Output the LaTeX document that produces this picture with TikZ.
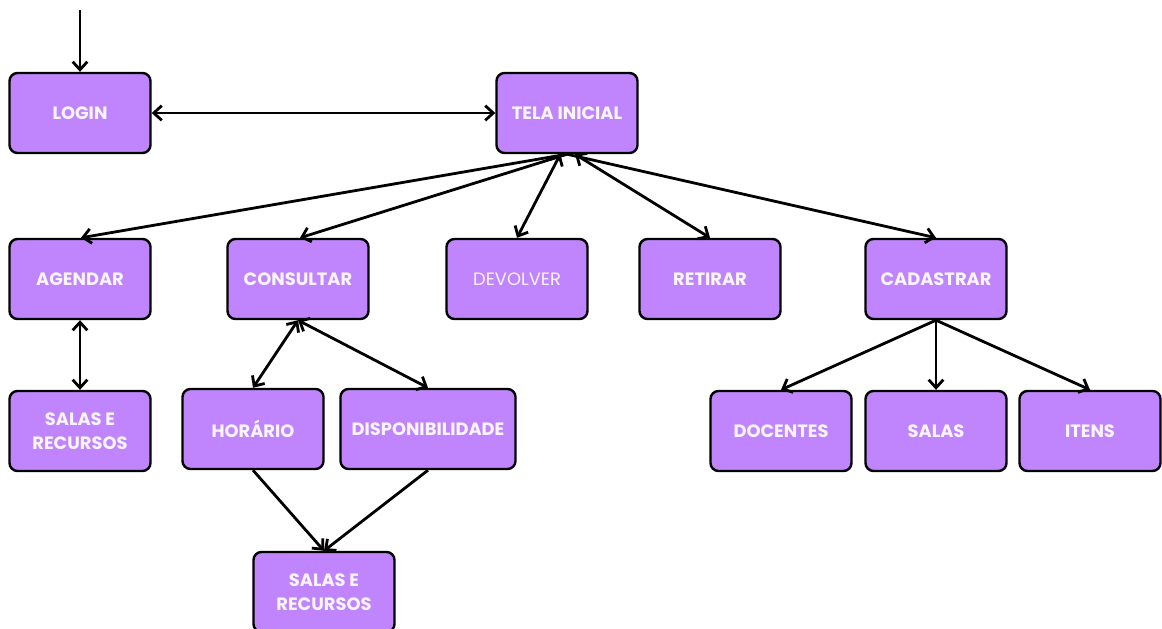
\documentclass[tikz,border=0pt]{standalone}
\usepackage{fontspec}
\setmainfont{Poppins}
\usetikzlibrary{arrows.meta}
\definecolor{boxfill}{HTML}{C084FC}
\definecolor{boxtext}{HTML}{FAF5FF}
\begin{document}
\begin{tikzpicture}[x=0.75pt,y=-0.75pt,
  box/.style={draw=black,line width=1.8pt,rounded corners=6pt,fill=boxfill,
    minimum width=105.75pt,minimum height=60pt,align=center,
    text=boxtext,font=\fontsize{13.4}{18}\selectfont\bfseries,inner sep=0pt},
  widebox/.style={box,minimum width=131.25pt},
  thinbox/.style={box,font=\fontsize{13.4}{18}\selectfont},
  link/.style={line width=2.1pt,-{Straight Barb[length=6pt,width=11pt]}},
  dlink/.style={line width=2.1pt,{Straight Barb[length=6pt,width=11pt]}-{Straight Barb[length=6pt,width=11pt]}}]
\useasboundingbox (0,0) rectangle (1162,628);

% screens
\node[box] (login) at (80,113) {LOGIN};
\node[box] (tela) at (567,113) {TELA INICIAL};
\node[box] (agendar) at (80,279) {AGENDAR};
\node[box] (consultar) at (298,279) {CONSULTAR};
\node[thinbox] (devolver) at (517,279) {DEVOLVER};
\node[box] (retirar) at (710,279) {RETIRAR};
\node[box] (cadastrar) at (936,279) {CADASTRAR};
\node[box] (salasA) at (80,431) {SALAS E\\RECURSOS};
\node[box] (horario) at (253,429) {HORÁRIO};
\node[widebox] (disp) at (428,429) {DISPONIBILIDADE};
\node[box] (salasB) at (324,592) {SALAS E\\RECURSOS};
\node[box] (docentes) at (781,431) {DOCENTES};
\node[box] (salas) at (936,431) {SALAS};
\node[box] (itens) at (1090,431) {ITENS};

% entry point
\coordinate (start) at (80,10);
\draw[link] (start) -- (login.north);

% navigation
\draw[dlink] (login.east) -- (tela.west);
\draw[link] (tela.south) -- ([xshift=0.75pt]agendar.north);
\draw[link] (tela.south) -- ([xshift=1.5pt]consultar.north);
\draw[dlink] ([xshift=-5pt]tela.south) -- (devolver.north);
\draw[dlink] ([xshift=6pt]tela.south) -- (retirar.north);
\draw[link] (tela.south) -- (cadastrar.north);
\draw[dlink] (agendar.south) -- (salasA.north);
\draw[dlink] (consultar.south) -- (horario.north);
\draw[dlink] (consultar.south) -- (disp.north);
\draw[link] (horario.south) -- (salasB.north);
\draw[link] (disp.south) -- (salasB.north);
\draw[link] (cadastrar.south) -- (docentes.north);
\draw[link] (cadastrar.south) -- (salas.north);
\draw[link] (cadastrar.south) -- (itens.north);
\end{tikzpicture}
\end{document}
